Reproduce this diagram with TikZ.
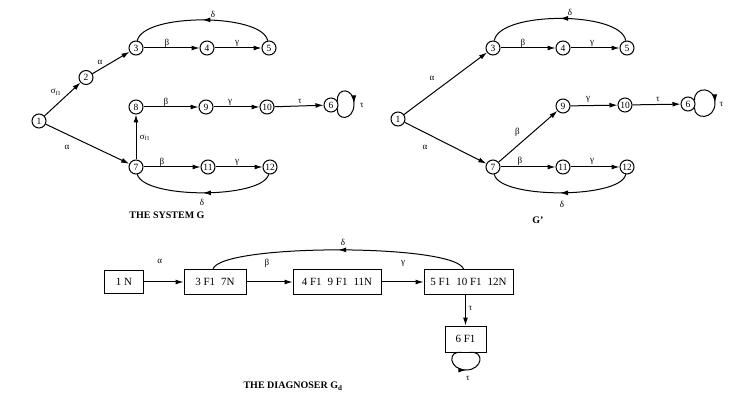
\documentclass[tikz,border=0pt]{standalone}
\usepackage{fontspec}
\setmainfont{Liberation Serif}
\usetikzlibrary{arrows.meta,decorations.markings}
\begin{document}
\begin{tikzpicture}[x=1pt,y=-1pt,
  st/.style={circle,draw,line width=1pt,minimum size=14pt,inner sep=0pt,font=\fontsize{9.5}{9.5}\selectfont},
  bx/.style={draw,line width=1pt,inner sep=0pt,font=\fontsize{11}{11}\selectfont},
  edge/.style={-{Latex[length=8pt,width=5pt]},line width=1pt},
  plain/.style={line width=1pt},
  lbl/.style={inner sep=0pt,font=\fontsize{9}{9}\selectfont},
  midarrow/.style={postaction={decorate},decoration={markings,mark=at position 0.5 with {\arrow{Latex[length=8pt,width=5pt]}}}},
  ttl/.style={inner sep=0pt,font=\bfseries\fontsize{10}{10}\selectfont}]
\useasboundingbox (0,0) rectangle (736,403);

% ---------------- THE SYSTEM G ----------------
\node[st] (n1) at (39,121) {1};
\node[st] (n2) at (86,77.5) {2};
\node[st] (n3) at (136,48) {3};
\node[st] (n4) at (207,48) {4};
\node[st] (n5) at (269,48) {5};
\node[st] (n8) at (136,107) {8};
\node[st] (n9) at (206,107) {9};
\node[st] (n10) at (267,107) {10};
\node[st] (n6) at (331,105) {6};
\node[st] (n7) at (136,167) {7};
\node[st] (n11) at (208,167) {11};
\node[st] (n12) at (270,167) {12};

\draw[edge] (n1) -- node[lbl,xshift=-6.5pt,yshift=7pt] {σ\textsubscript{f1}} (n2);
\draw[edge] (n2) -- node[lbl,xshift=-11pt,yshift=0.5pt] {α} (n3);
\draw[edge] (n1) -- node[lbl,xshift=-20.5pt,yshift=-3pt] {α} (n7);
\draw[edge] (n3) -- node[lbl,xshift=-4.5pt,yshift=5pt] {β} (n4);
\draw[edge] (n4) -- node[lbl,xshift=-1pt,yshift=5pt] {γ} (n5);
\draw[edge] (n8) -- node[lbl,xshift=-5pt,yshift=4.5pt] {β} (n9);
\draw[edge] (n9) -- node[lbl,xshift=-6.5pt,yshift=4.5pt] {γ} (n10);
\draw[edge] (n10) -- node[lbl,xshift=1pt,yshift=4.5pt] {τ} (n6);
\draw[edge] (n7) -- node[lbl,xshift=9pt,yshift=-1pt] {σ\textsubscript{f1}} (n8);
\draw[edge] (n7) -- node[lbl,xshift=-10pt,yshift=5pt] {β} (n11);
\draw[edge] (n11) -- node[lbl,xshift=-2pt,yshift=5pt] {γ} (n12);
\draw[plain,midarrow] (n5.100) .. controls (262,13) and (143,13) .. node[lbl,xshift=10.5pt,yshift=6pt] {δ} (n3.80);
\draw[plain,midarrow] (n12.-100) .. controls (262,199) and (144,199) .. node[lbl,xshift=-1pt,yshift=-10pt] {δ} (n7.-80);
\draw[plain,midarrow] (n6.30) .. controls (336,87) and (354,87) .. node[lbl,pos=1,xshift=8pt,yshift=-1pt] {τ} (354,104)
  .. controls (354,121) and (336,121) .. (n6.-30);
\node[ttl] (tg) at (167,215) {THE SYSTEM G};

% ---------------- G' ----------------
\node[st] (m1) at (398,119) {1};
\node[st] (m3) at (493,48) {3};
\node[st] (m4) at (563,48) {4};
\node[st] (m5) at (627,48) {5};
\node[st] (m9) at (563,106) {9};
\node[st] (m10) at (625,105) {10};
\node[st] (m6) at (688,104) {6};
\node[st] (m7) at (493,167) {7};
\node[st] (m11) at (563,167) {11};
\node[st] (m12) at (627,167) {12};

\draw[edge] (m1) -- node[lbl,xshift=-13.5pt,yshift=5.5pt] {α} (m3);
\draw[edge] (m1) -- node[lbl,xshift=-20.5pt,yshift=-4pt] {α} (m7);
\draw[edge] (m3) -- node[lbl,xshift=-5pt,yshift=5pt] {β} (m4);
\draw[edge] (m4) -- node[lbl,xshift=-3pt,yshift=5pt] {γ} (m5);
\draw[edge] (m7) -- node[lbl,xshift=-10.5pt,yshift=4.5pt] {β} (m9);
\draw[edge] (m9) -- node[lbl,xshift=-6pt,yshift=6.5pt] {γ} (m10);
\draw[edge] (m10) -- node[lbl,xshift=1.5pt,yshift=5.5pt] {τ} (m6);
\draw[edge] (m7) -- node[lbl,xshift=-8pt,yshift=6pt] {β} (m11);
\draw[edge] (m11) -- node[lbl,xshift=-3pt,yshift=6pt] {γ} (m12);
\draw[plain,midarrow] (m5.100) .. controls (621,11) and (499,11) .. node[lbl,xshift=10pt,yshift=5.5pt] {δ} (m3.80);
\draw[plain,midarrow] (m12.-100) .. controls (621,199) and (499,199) .. node[lbl,xshift=2pt,yshift=-12pt] {δ} (m7.-80);
\draw[plain,midarrow] (m6.30) .. controls (694,86) and (715,86) .. node[lbl,pos=1,xshift=6.5pt,yshift=-1pt] {τ} (715,103)
  .. controls (715,120) and (694,120) .. (m6.-30);
\node[ttl] (tgp) at (538,220) {G'};

% ---------------- THE DIAGNOSER ----------------
\node[bx,minimum width=39pt,minimum height=23pt] (b1) at (124,282) {1 N};
\node[bx,minimum width=62pt,minimum height=25pt] (b3) at (215,282) {3 F1\hspace{6pt}7N};
\node[bx,minimum width=88pt,minimum height=25pt] (b4) at (337,282) {4 F1\hspace{6pt}9 F1\hspace{6pt}11N};
\node[bx,minimum width=89pt,minimum height=25pt] (b5) at (468.5,282) {5 F1\hspace{6pt}10 F1\hspace{6pt}12N};
\node[bx,minimum width=41pt,minimum height=26pt] (b6) at (465.5,339) {6 F1};

\draw[edge] (b1) -- node[lbl,xshift=-4pt,yshift=21pt] {α} (b3);
\draw[edge] (b3) -- node[lbl,xshift=-2.5pt,yshift=19pt] {β} (b4);
\draw[edge] (b4) -- node[lbl,xshift=0.5pt,yshift=19pt] {γ} (b5);
\draw[edge] (b5.south -| b6.north) -- node[lbl,xshift=5pt,yshift=2pt] {τ} (b6.north);
\draw[plain,midarrow] ([xshift=-5pt]b5.north) .. controls (455,243.5) and (221,243.5) .. node[lbl,xshift=5pt,yshift=7pt] {δ} ([xshift=-2pt]b3.north);
\draw[plain,midarrow] ([xshift=-4pt]b6.south) .. controls (447,350) and (449,370) .. node[lbl,pos=1,xshift=2pt,yshift=-8pt] {τ} (466,370)
  .. controls (483,370) and (485,350) .. ([xshift=4pt]b6.south);
\node[ttl] (td) at (293,386) {THE DIAGNOSER G\textsubscript{d}};
\end{tikzpicture}
\end{document}
